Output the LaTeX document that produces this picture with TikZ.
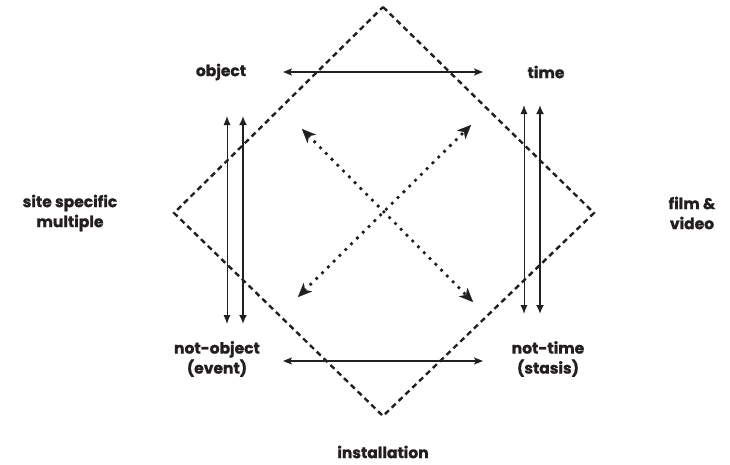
\documentclass[tikz,border=0pt]{standalone}
\usepackage{fontspec}
\setmainfont{Poppins}[BoldFeatures={FakeBold=1.2}]
\usetikzlibrary{arrows.meta}
\definecolor{ink}{HTML}{231F20}
\begin{document}
\begin{tikzpicture}[x=1pt,y=-1pt,
  lbl/.style={text=ink,font=\bfseries\fontsize{15.5}{20}\selectfont,align=center,inner sep=0pt},
  diam/.style={draw=ink,line width=2.4pt,dash pattern=on 5.5pt off 4pt},
  harrow/.style={draw=ink,line width=1.4pt,{Stealth[length=9pt,width=7pt,inset=2pt]}-{Stealth[length=9pt,width=7pt,inset=2pt]}},
  vthin/.style={draw=ink,line width=1pt,{Latex[length=9pt,width=7pt]}-{Latex[length=9pt,width=7pt]}},
  vthick/.style={draw=ink,line width=2pt,{Latex[length=9pt,width=8pt]}-{Latex[length=9pt,width=8pt]}},
  dotline/.style={draw=ink,line width=3.8pt,dash pattern=on 0pt off 8.2pt,line cap=round,
    {Stealth[length=14pt,width=12pt,inset=4pt,line width=0.1pt,round]}-{Stealth[length=14pt,width=12pt,inset=4pt,line width=0.1pt,round]}}]
\useasboundingbox (0,0) rectangle (730,464);
% diamond
\coordinate (dt) at (383,7);
\coordinate (dr) at (594,213);
\coordinate (db) at (383,416);
\coordinate (dl) at (174,213);
\draw[diam] (dt) -- (dr) -- (db) -- (dl) -- cycle;
% labels
\node[lbl] (object) at (221,72) {object};
\node[lbl] (time) at (546,72) {time};
\node[lbl] (site) at (70,213) {site specific\\multiple};
\node[lbl] (film) at (692,213) {film \&\\video};
\node[lbl] (notobj) at (217,359) {not-object\\(event)};
\node[lbl] (nottime) at (548,359) {not-time\\(stasis)};
\node[lbl] (inst) at (383,452) {installation};
% horizontal arrows
\coordinate (ht1) at (283,72);
\coordinate (ht2) at (483,72);
\coordinate (hb1) at (283,361);
\coordinate (hb2) at (483,361);
\draw[harrow] (ht1) -- (ht2);
\draw[harrow] (hb1) -- (hb2);
% vertical arrows left
\coordinate (la1) at (227,116);
\coordinate (la2) at (227,324);
\coordinate (lb1) at (243,116);
\coordinate (lb2) at (243,324);
\draw[vthin] (la1) -- (la2);
\draw[vthick] (lb1) -- (lb2);
% vertical arrows right
\coordinate (ra1) at (524,105);
\coordinate (ra2) at (524,314);
\coordinate (rb1) at (540,105);
\coordinate (rb2) at (540,314);
\draw[vthin] (ra1) -- (ra2);
\draw[vthick] (rb1) -- (rb2);
% dotted diagonals
\coordinate (tl) at (302,129);
\coordinate (br) at (473,302);
\coordinate (bl) at (298,297);
\coordinate (tr) at (471,125);
\draw[dotline] (tl) -- (br);
\draw[dotline] (bl) -- (tr);
\end{tikzpicture}
\end{document}
